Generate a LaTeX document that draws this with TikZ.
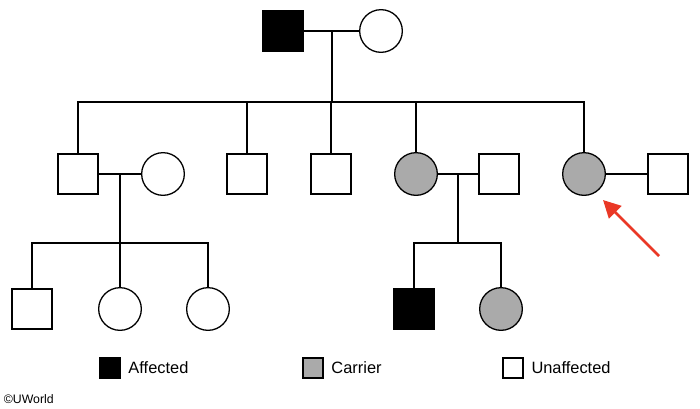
\documentclass[tikz,border=0pt]{standalone}
\usepackage{fontspec}
\setmainfont{Liberation Sans}
\usepackage{tikz}
\usetikzlibrary{positioning,arrows.meta}
\definecolor{carriergray}{RGB}{170,170,170}
\definecolor{arrowred}{RGB}{234,56,38}
\tikzset{male node/.style={rectangle,draw,line width=1.1pt,fill=white,minimum size=1.2cm,inner sep=0pt},
         female node/.style={circle,draw,line width=1.1pt,fill=white,minimum size=1.28cm,inner sep=0pt},
         affected/.style={fill=black},
         carrier/.style={fill=carriergray},
         key node/.style={rectangle,draw,line width=1pt,minimum size=0.6cm,inner sep=0pt},
         key text/.style={anchor=west,font=\fontsize{14}{16}\selectfont,inner sep=0pt},
            }

\begin{document}
\begin{tikzpicture}[x=0.03cm,y=-0.03cm,line width=1.5pt]
    \useasboundingbox (0,0) rectangle (700,408);

    % generation I
    \node[male node,affected] (I1) at (283,31) {};
    \node[female node] (I2) at (381,31) {};
    \coordinate (m1) at (332,31);
    \coordinate (s1) at (332,102);

    % generation II
    \node[male node] (II1) at (78,174) {};
    \node[female node] (II2) at (163,174) {};
    \node[male node] (II3) at (247,174) {};
    \node[male node] (II4) at (331,174) {};
    \node[female node,carrier] (II5) at (416,174) {};
    \node[male node] (II6) at (499,174) {};
    \node[female node,carrier] (II7) at (584,174) {};
    \node[male node] (II8) at (668,174) {};
    \coordinate (m2) at (120,174);
    \coordinate (s2) at (120,243);
    \coordinate (m3) at (458,174);
    \coordinate (s3) at (458,243);

    % generation III
    \node[male node] (III1) at (32,309) {};
    \node[female node] (III2) at (120,309) {};
    \node[female node] (III3) at (208,309) {};
    \node[male node,affected] (III4) at (414,309) {};
    \node[female node,carrier] (III5) at (501,309) {};

    % couples and descent lines
    \path[draw]
    (I1) -- (I2)
    (m1) -- (s1)
    (II1) -- (II2)
    (m2) -- (s2)
    (II5) -- (II6)
    (m3) -- (s3)
    (II7) -- (II8);

    \draw (II1.north) |- (s1) -| (II7.north);
    \foreach \n in {II3,II4,II5}
        \draw (\n.north) -- (\n.north |- s1);
    \draw (III1.north) |- (s2) -| (III3.north);
    \draw (III2.north) -- (s2);
    \draw (III4.north) |- (s3) -| (III5.north);

    % proband
    \coordinate (tail) at (659,256);
    \draw[arrowred,line width=2.4pt,-{Triangle[length=0.52cm,width=0.52cm]}] (tail) -- (603,200);

    % key
    \node[key node,fill=black] (k1) at (110,368) {};
    \node[key text] (t1) [right = 6pt of k1] {Affected};
    \node[key node,fill=carriergray] (k2) at (313,368) {};
    \node[key text] (t2) [right = 6pt of k2] {Carrier};
    \node[key node] (k3) at (513,368) {};
    \node[key text] (t3) [right = 6pt of k3] {Unaffected};

    \node[anchor=west,inner sep=0pt,font=\fontsize{10.5}{12}\selectfont] (copy) at (3,399) {\raisebox{0.3pt}{\textcopyright}UWorld};
\end{tikzpicture}
\end{document}
